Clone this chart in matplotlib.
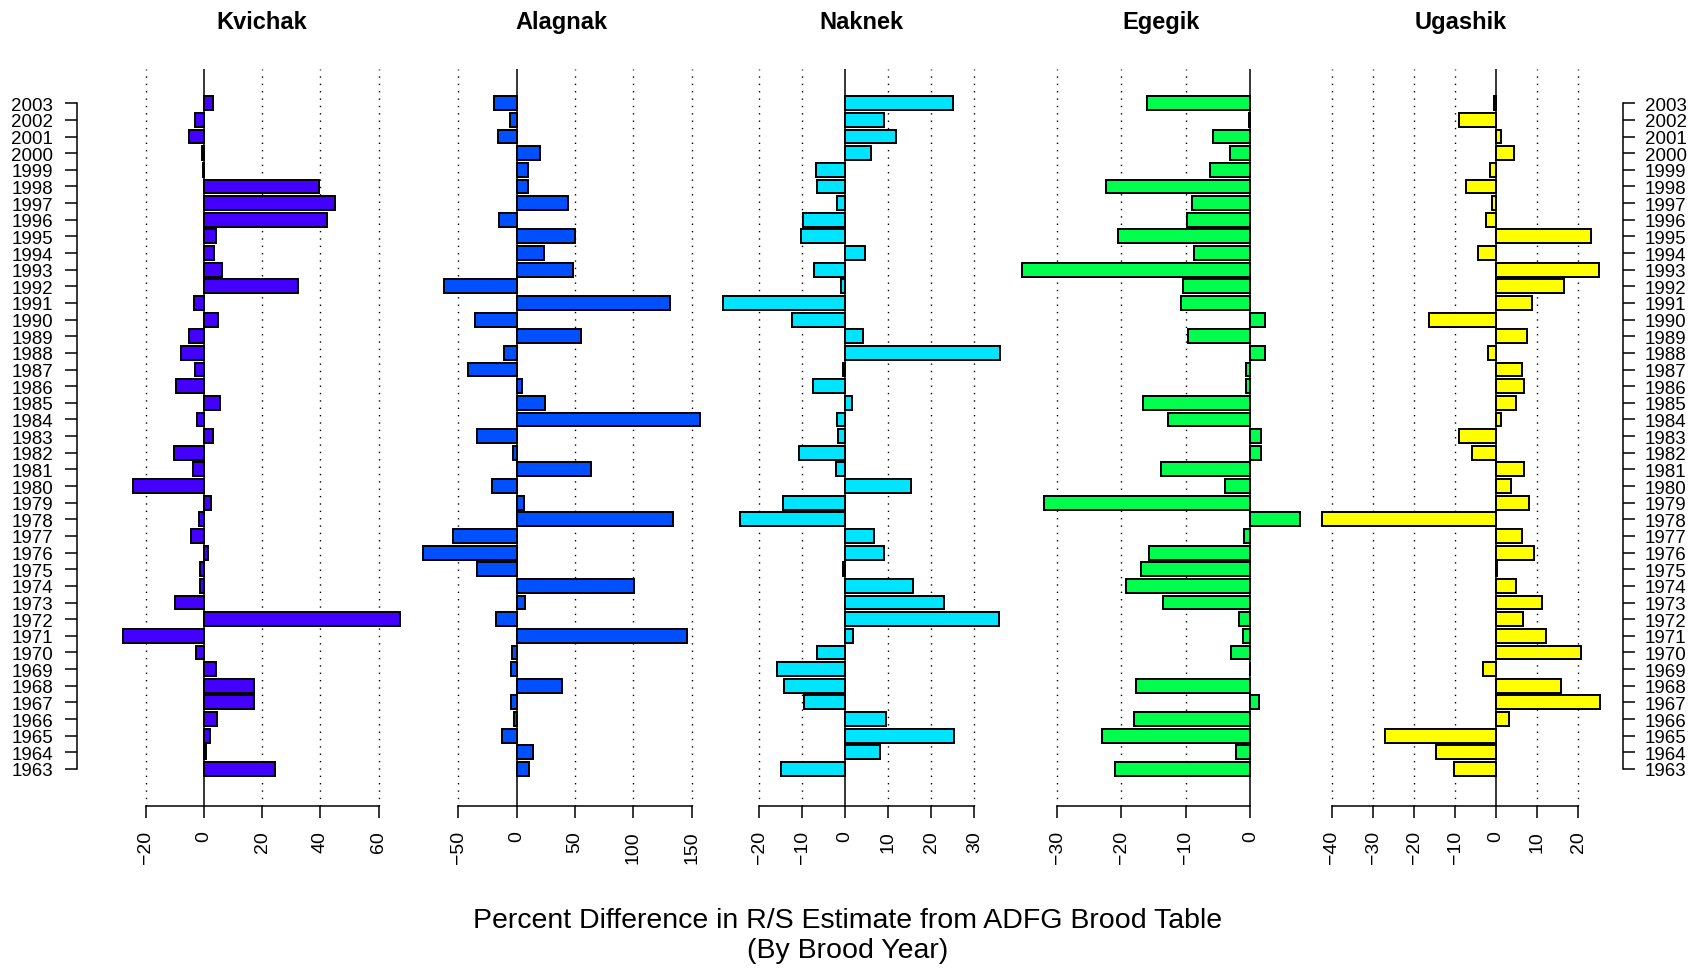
import numpy as np
import matplotlib.pyplot as plt

plt.rcParams['font.family'] = ['Liberation Sans', 'DejaVu Sans']

years = list(range(1963, 2004))

rivers = ["Kvichak", "Alagnak", "Naknek", "Egegik", "Ugashik"]

# percent difference by brood year, 1963 -> 2003
kvichak = [24.3, 0.5, 1.9, 4.4, 17.1, 17.2, 4.1, -2.8, -27.9, 67.5,
           -10.1, -1.4, -1.5, 1.5, -4.5, -1.8, 2.3, -24.6, -3.7, -10.3,
           3.0, -2.6, 5.3, -9.6, -3.1, -7.8, -5.2, 4.9, -3.3, 32.3,
           6.2, 3.4, 4.1, 42.3, 44.9, 39.5, -0.3, -0.8, -5.3, -3.1, 3.1]
alagnak = [10.6, 14.1, -12.6, -2.6, -5.2, 39.0, -4.6, -4.0, 146.3, -17.8,
           7.5, 100.7, -33.8, -80.6, -54.8, 134.0, 6.3, -21.5, 63.7, -3.2,
           -33.8, 157.5, 24.1, 4.9, -41.6, -10.6, 55.4, -35.6, 131.7, -62.0,
           48.5, 23.5, 50.2, -14.9, 43.9, 10.0, 9.5, 19.8, -16.1, -6.0, -19.8]
naknek = [-14.8, 8.0, 25.3, 9.6, -9.5, -14.3, -15.9, -6.6, 1.9, 35.8,
          22.9, 15.7, -0.5, 9.0, 6.6, -24.5, -14.5, 15.2, -2.1, -10.8,
          -1.6, -1.9, 1.6, -7.5, -0.5, 36.0, 4.2, -12.4, -28.5, -0.9,
          -7.3, 4.5, -10.3, -9.9, -1.9, -6.6, -6.8, 6.1, 11.7, 9.1, 25.0]
egegik = [-21.0, -2.2, -23.0, -18.1, 1.3, -17.7, -0.1, -3.0, -1.2, -1.7,
          -13.5, -19.3, -16.9, -15.8, -1.0, 7.7, -32.1, -4.0, -13.8, 1.7,
          1.7, -12.8, -16.6, -0.7, -0.7, 2.3, -9.7, 2.3, -10.7, -10.5,
          -35.4, -8.7, -20.5, -9.9, -9.1, -22.4, -6.2, -3.1, -5.8, -0.2, -16.0]
ugashik = [-10.4, -14.6, -27.0, 3.2, 25.2, 15.8, -3.3, 20.7, 12.1, 6.5,
           11.1, 4.8, 0.2, 9.2, 6.3, -42.4, 7.9, 3.7, 6.8, -5.8,
           -9.0, 1.1, 4.7, 6.8, 6.3, -2.0, 7.4, -16.4, 8.6, 16.5,
           25.0, -4.4, 23.2, -2.4, -1.1, -7.4, -1.4, 4.3, 1.2, -9.0, -0.6]

values = [kvichak, alagnak, naknek, egegik, ugashik]
colors = ["#4400FF", "#0050FF", "#00E5FF", "#00FF4C", "#FFFF00"]
xticks = [[-20, 0, 20, 40, 60],
          [-50, 0, 50, 100, 150],
          [-20, -10, 0, 10, 20, 30],
          [-30, -20, -10, 0],
          [-40, -30, -20, -10, 0, 10, 20]]

W, H = 1690, 970
fig = plt.figure(figsize=(W / 100, H / 100), dpi=100)

# R-style barplot geometry: bar width 1, space 0.2, 4% axis padding
n = len(years)
ypos = 0.7 + 1.2 * np.arange(n)
ytop = 1.2 * n
ylim = (-0.04 * ytop, ytop * 1.04)

panel_left, panel_w = 111.8, 299.8
plot_bottom, plot_top = 807, 70

for i, (name, vals, col, ticks) in enumerate(zip(rivers, values, colors, xticks)):
    ax = fig.add_axes([(panel_left + i * panel_w) / W, 1 - plot_bottom / H,
                       panel_w / W, (plot_bottom - plot_top) / H])
    v = np.array(vals)
    lo, hi = min(0, v.min()), max(0, v.max())
    pad = 0.04 * (hi - lo)
    ax.set_xlim(lo - pad, hi + pad)
    ax.set_ylim(*ylim)

    for t in ticks:
        if t != 0:
            ax.axvline(t, color='black', lw=1.0, linestyle=(0, (1, 4.3)), zorder=1)
    ax.axvline(0, color='black', lw=1.1, zorder=1)

    ax.barh(ypos, v, height=1.0, left=0, color=col, edgecolor='black',
            linewidth=1.4, zorder=2)

    ax.set_title(name, fontsize=17, fontweight='bold', pad=0,
                 y=1.0 + 41 / (plot_bottom - plot_top))

    for s in ['top', 'right', 'left']:
        ax.spines[s].set_visible(False)
    ax.spines['bottom'].set_bounds(ticks[0], ticks[-1])
    ax.spines['bottom'].set_linewidth(1.1)
    ax.set_xticks(ticks)
    ax.set_xticklabels([str(t).replace('-', '\u2212') for t in ticks], rotation=90, va='top')
    ax.tick_params(axis='x', length=8.3, width=1.1, pad=9.0, labelsize=14)

    if i == 0:
        ax.spines['left'].set_visible(True)
        ax.spines['left'].set_position(('outward', 25))
        ax.spines['left'].set_bounds(ypos[0], ypos[-1])
        ax.spines['left'].set_linewidth(1.1)
        ax.set_yticks(ypos)
        ax.set_yticklabels(years)
        ax.tick_params(axis='y', length=8.3, width=1.1, pad=9.0, labelsize=13.5)
    elif i == len(rivers) - 1:
        ax.spines['right'].set_visible(True)
        ax.spines['right'].set_position(('outward', 9))
        ax.spines['right'].set_bounds(ypos[0], ypos[-1])
        ax.spines['right'].set_linewidth(1.1)
        ax.yaxis.tick_right()
        ax.set_yticks(ypos)
        ax.set_yticklabels(years)
        ax.tick_params(axis='y', length=8.3, width=1.1, pad=7, labelsize=13.5)
    else:
        ax.set_yticks([])

fig.text(0.5013, 1 - 936 / H, "Percent Difference in R/S Estimate from ADFG Brood Table\n(By Brood Year)",
         ha='center', va='center', fontsize=20.5, linespacing=1.2)

fig.savefig("out.png", dpi=100)
